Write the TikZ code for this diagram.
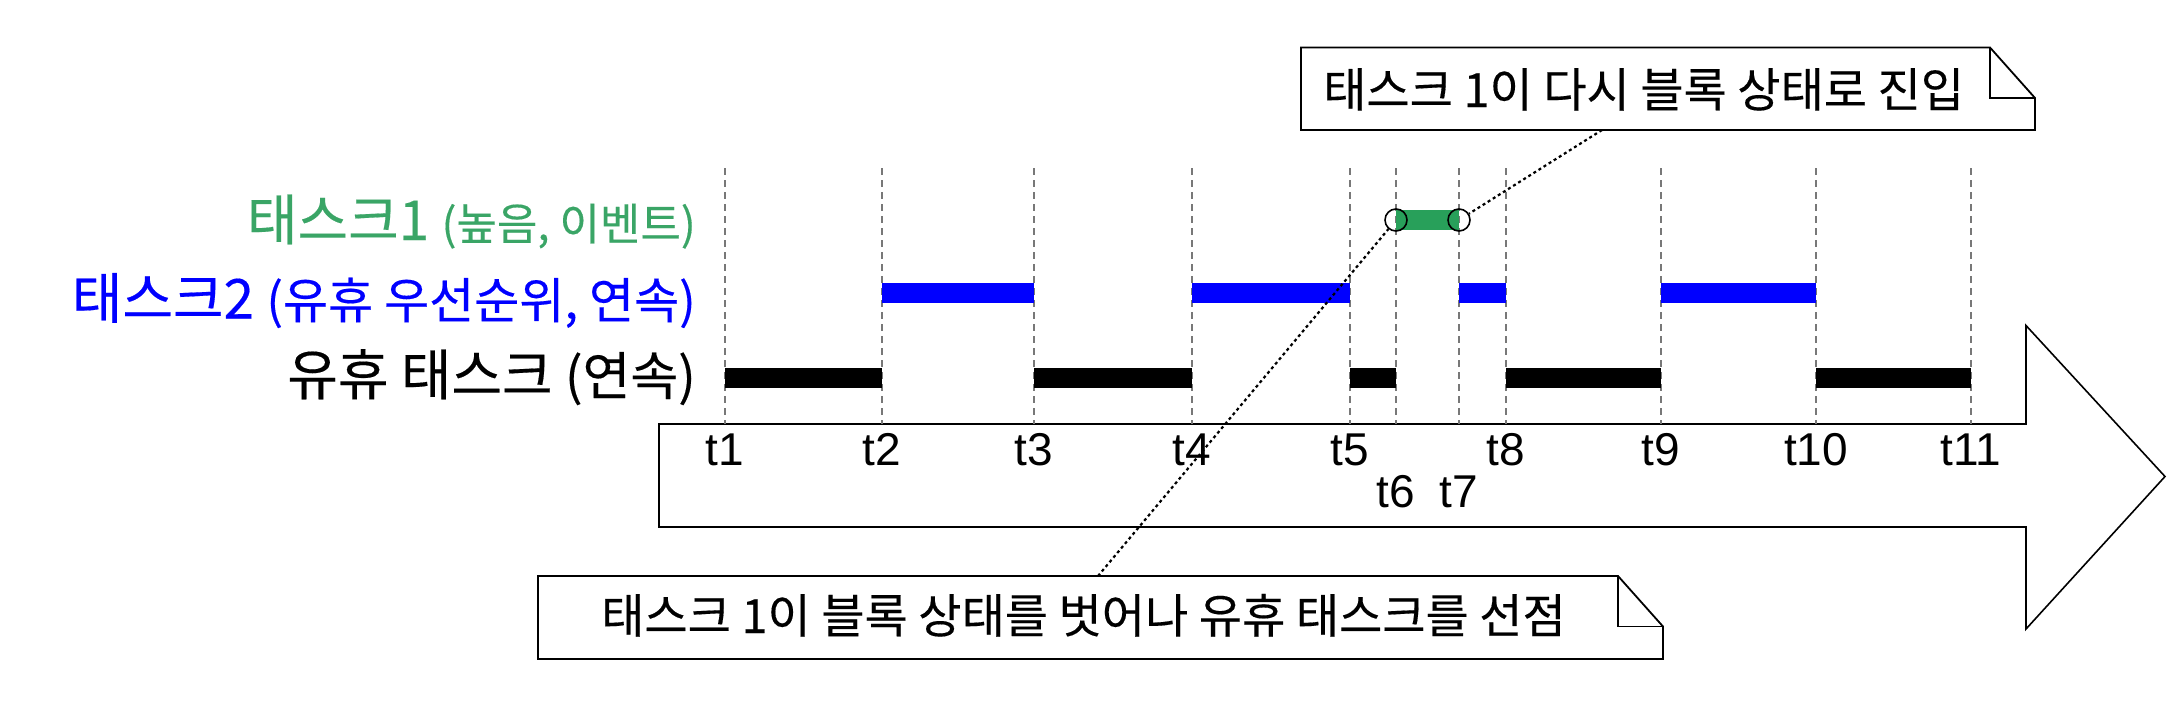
\documentclass[tikz,border=0pt]{standalone}
\usepackage{fontspec}
\newfontfamily\kr[FakeBold=0.3]{Noto Sans CJK KR}
\newfontfamily\lat{Liberation Sans}
\definecolor{tgreen}{RGB}{40,160,90}
\definecolor{tgreentext}{RGB}{58,165,102}
\definecolor{gridgray}{RGB}{120,120,120}
\begin{document}
\begin{tikzpicture}[x=1pt,y=-1pt,
  gridline/.style={draw=gridgray,line width=1.8pt,dash pattern=on 7pt off 5pt},
  bar/.style={line width=20pt,line cap=butt},
  tlab/.style={font=\lat\fontsize{46}{54}\selectfont,inner sep=0pt},
  rowlab/.style={anchor=base east,inner sep=0pt,font=\kr\fontsize{55}{66}\selectfont},
  notetext/.style={anchor=base west,inner sep=0pt,font=\kr\fontsize{47}{56}\selectfont},
  notebox/.style={draw=black,line width=1.8pt,fill=white,line join=miter},
  leader/.style={draw=black,line width=2.2pt,dash pattern=on 3pt off 3pt},
  endcirc/.style={circle,draw=black,line width=1.6pt,minimum size=22pt,inner sep=0pt}]
\useasboundingbox (0,0) rectangle (2172,724);
\fill[white] (0,0) rectangle (2172,724);
% big arrow
\draw[line width=1.6pt,fill=white,line join=miter]
  (659,424) -- (2026,424) -- (2026,325.5) -- (2165,476.5) -- (2026,629) -- (2026,527) -- (659,527) -- cycle;
% grid lines and time labels
\foreach \n/\x in {1/725,2/882,3/1034,4/1192,5/1350,6/1396,7/1459,8/1506,9/1661,10/1816,11/1971}{
  \draw[gridline] (\x,168) -- (\x,424);
}
\foreach \n/\x/\y in {1/725/450,2/882/450,3/1034/450,4/1192/450,5/1350/450,6/1396/492,7/1459/492,8/1506/450,9/1661/450,10/1816/450,11/1971/450}{
  \node[tlab] (tl\n) at (\x,\y) {t\n};
}
% idle task bars
\foreach \a/\b in {725/882,1034/1192,1350/1396,1506/1661,1816/1971}{
  \draw[bar,black] (\a,378) -- (\b,378);
}
% task 2 bars
\foreach \a/\b in {882/1034,1192/1350,1459/1506,1661/1816}{
  \draw[bar,blue] (\a,293) -- (\b,293);
}
% task 1 bar
\draw[bar,tgreen] (1396,220) -- (1459,220);
\node[endcirc] (c6) at (1396,220) {};
\node[endcirc] (c7) at (1459,220) {};
% row labels
\node[rowlab,text=tgreentext] (lab1) at (696,240) {태스크1 {\fontsize{44}{52}\selectfont (높음, 이벤트)}};
\node[rowlab,text=blue] (lab2) at (696,318.5) {태스크2 {\fontsize{49}{58}\selectfont (유휴 우선순위, 연속)}};
\node[rowlab,text=black] (lab3) at (696,395) {유휴 태스크 {\fontsize{52}{62}\selectfont (연속)}};
% callouts
\draw[notebox] (1301,47.5) -- (1990,47.5) -- (2035,98) -- (2035,130) -- (1301,130) -- cycle;
\draw[notebox,fill=none] (1990,47.5) -- (1990,98) -- (2035,98);
\node[notetext] (note1) at (1323,107) {태스크 1이 다시 블록 상태로 진입};
\draw[notebox] (538,576) -- (1618,576) -- (1663,626.5) -- (1663,659) -- (538,659) -- cycle;
\draw[notebox,fill=none] (1618,576) -- (1618,626.5) -- (1663,626.5);
\node[notetext] (note2) at (601,633) {태스크 1이 블록 상태를 벗어나 유휴 태스크를 선점};
% leaders
\coordinate (p1) at (1602,130);
\coordinate (p2) at (1098,576);
\draw[leader] (p1) -- (c7);
\draw[leader] (p2) -- (c6);
\end{tikzpicture}
\end{document}
